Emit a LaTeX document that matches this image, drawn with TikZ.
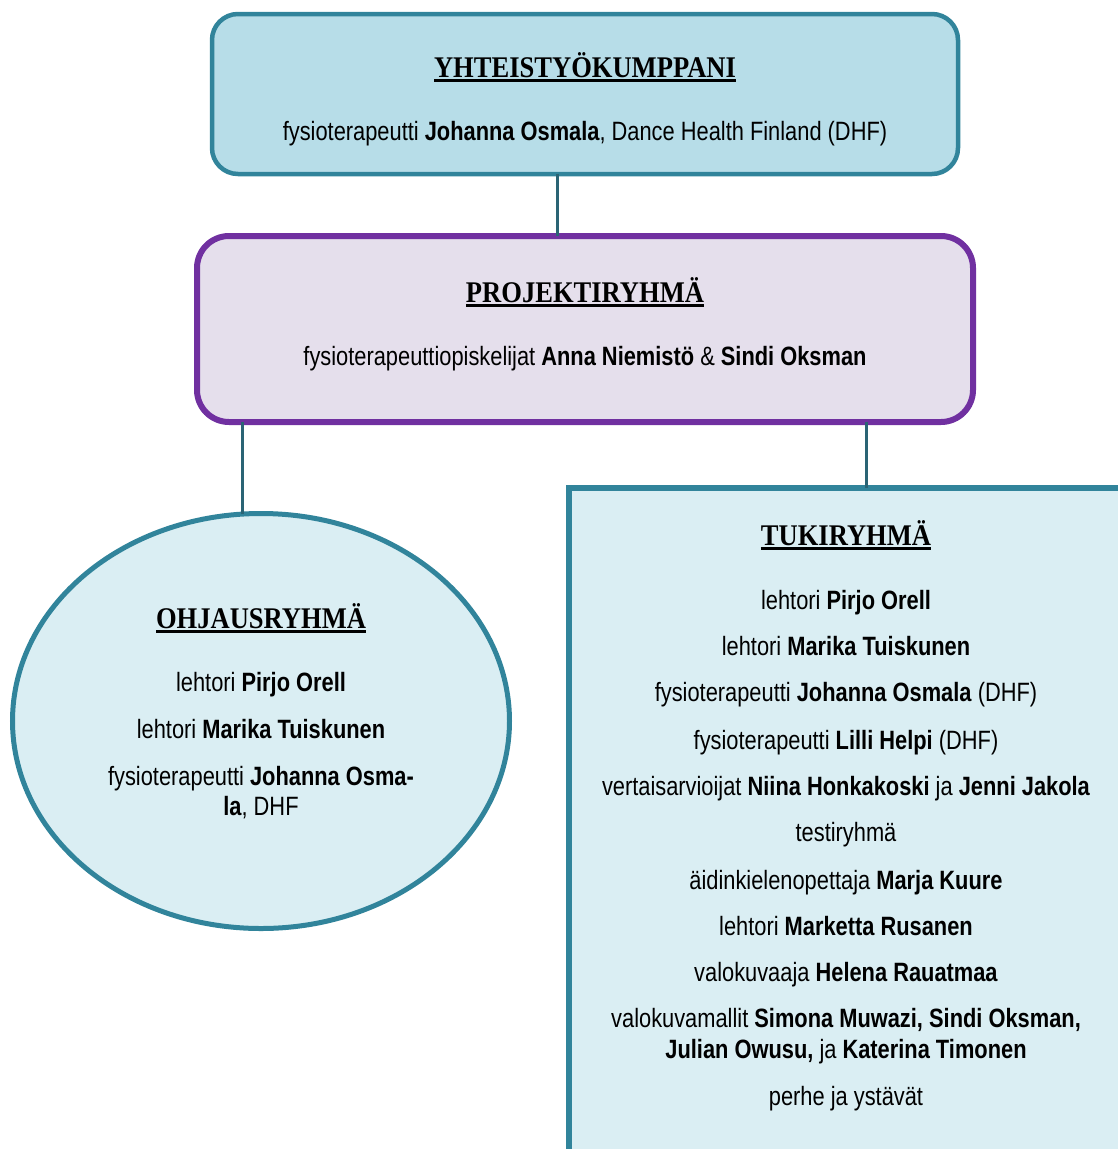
\documentclass[tikz,border=0pt]{standalone}
\usepackage{fontspec}
\setmainfont{Liberation Sans}[FakeStretch=0.824]
\newfontfamily\hdfont{Liberation Serif}[FakeStretch=0.885]
\usetikzlibrary{shapes.geometric}
\definecolor{teal}{HTML}{31849B}
\definecolor{conncol}{HTML}{2A6475}
\definecolor{topfill}{HTML}{B7DDE8}
\definecolor{purp}{HTML}{7030A0}
\definecolor{projfill}{HTML}{E5DFEC}
\definecolor{lightfill}{HTML}{DAEEF3}
\newcommand{\hdul}[1]{\setbox0\hbox{#1}\rlap{\rule[-4.8pt]{\wd0}{2.4pt}}\box0}
\tikzset{
  txt/.style={anchor=base, inner sep=0pt, font=\fontsize{26.5}{31}\selectfont},
  head/.style={anchor=base, inner sep=0pt, font=\hdfont\bfseries\fontsize{30}{36}\selectfont},
  conn/.style={draw=conncol, line width=3pt},
}
\begin{document}
\begin{tikzpicture}[x=1pt,y=-1pt]
\useasboundingbox (0,0) rectangle (1118,1149);
% shapes
\node[draw=teal, fill=topfill, line width=4.5pt, rounded corners=26pt, minimum width=746pt, minimum height=160pt, inner sep=0pt, outer sep=0pt] (top) at (585,94) {};
\node[draw=purp, fill=projfill, line width=6pt, rounded corners=32pt, minimum width=776pt, minimum height=186pt, inner sep=0pt, outer sep=0pt] (proj) at (585,329) {};
\node[ellipse, draw=teal, fill=lightfill, line width=5pt, minimum width=497pt, minimum height=415pt, inner sep=0pt, outer sep=0pt] (ell) at (261,721) {};
\node[draw=teal, fill=lightfill, line width=6pt, minimum width=580pt, minimum height=700pt, inner sep=0pt, outer sep=0pt, anchor=north west] (tuki) at (569,488) {};
% connectors
\coordinate (c1) at (557,0);
\coordinate (c2) at (242,0);
\coordinate (c3) at (866,0);
\draw[conn] (top.south -| c1) -- (proj.north -| c1);
\draw[conn] (proj.south -| c2) -- (ell.north -| c2);
\draw[conn] (proj.south -| c3) -- (tuki.north -| c3);
% top box text
\node[head] (h1) at (585,77) {\hdul{YHTEISTYÖKUMPPANI}};
\node[txt] (t1) at (585,140) {fysioterapeutti \textbf{Johanna Osmala}, Dance Health Finland (DHF)};
% project text
\node[head] (h2) at (585,302) {\hdul{PROJEKTIRYHMÄ}};
\node[txt] (t2) at (585,365) {fysioterapeuttiopiskelijat \textbf{Anna Niemistö} \& \textbf{Sindi Oksman}};
% ellipse text
\node[head] (h3) at (261,628) {\hdul{OHJAUSRYHMÄ}};
\node[txt] (e1) at (261,691) {lehtori \textbf{Pirjo Orell}};
\node[txt] (e2) at (261,738) {lehtori \textbf{Marika Tuiskunen}};
\node[txt] (e3) at (261,785) {fysioterapeutti \textbf{Johanna Osma-}};
\node[txt] (e4) at (261,815) {\textbf{la}, DHF};
% tuki text
\node[head] (h4) at (846,545) {\hdul{TUKIRYHMÄ}};
\node[txt] (r1) at (846,609) {lehtori \textbf{Pirjo Orell}};
\node[txt] (r2) at (846,655) {lehtori \textbf{Marika Tuiskunen}};
\node[txt] (r3) at (846,701) {fysioterapeutti \textbf{Johanna Osmala} (DHF)};
\node[txt] (r4) at (846,749) {fysioterapeutti \textbf{Lilli Helpi} (DHF)};
\node[txt] (r5) at (846,795) {vertaisarvioijat \textbf{Niina Honkakoski} ja \textbf{Jenni Jakola}};
\node[txt] (r6) at (846,841) {testiryhmä};
\node[txt] (r7) at (846,889) {äidinkielenopettaja \textbf{Marja Kuure}};
\node[txt] (r8) at (846,935) {lehtori \textbf{Marketta Rusanen}};
\node[txt] (r9) at (846,981) {valokuvaaja \textbf{Helena Rauatmaa}};
\node[txt] (r10) at (846,1027) {valokuvamallit \textbf{Simona Muwazi, Sindi Oksman,}};
\node[txt] (r11) at (846,1058) {\textbf{Julian Owusu,} ja \textbf{Katerina Timonen}};
\node[txt] (r12) at (846,1105) {perhe ja ystävät};
\end{tikzpicture}
\end{document}
